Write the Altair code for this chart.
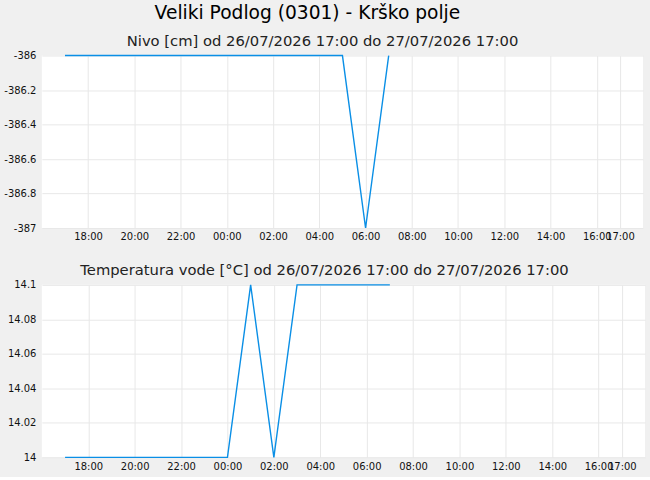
import altair as alt
import pandas as pd

# --- data ---
level_times = ["2026-07-26 17:00", "2026-07-26 18:00", "2026-07-26 19:00", "2026-07-26 20:00",
               "2026-07-26 21:00", "2026-07-26 22:00", "2026-07-26 23:00", "2026-07-27 00:00",
               "2026-07-27 01:00", "2026-07-27 02:00", "2026-07-27 03:00", "2026-07-27 04:00",
               "2026-07-27 05:00", "2026-07-27 06:00", "2026-07-27 07:00"]
level_values = [-386, -386, -386, -386, -386, -386, -386, -386,
                -386, -386, -386, -386, -386, -387, -386]

temp_times = level_times
temp_values = [14.0, 14.0, 14.0, 14.0, 14.0, 14.0, 14.0, 14.0,
               14.1, 14.0, 14.1, 14.1, 14.1, 14.1, 14.1]

level_ticks = [-387, -386.8, -386.6, -386.4, -386.2, -386]
temp_ticks = [14, 14.02, 14.04, 14.06, 14.08, 14.1]

tick_hours = [(26, 18), (26, 20), (26, 22), (27, 0), (27, 2), (27, 4), (27, 6), (27, 8),
              (27, 10), (27, 12), (27, 14), (27, 16), (27, 17)]

main_title = "Veliki Podlog (0301) - Krško polje"
level_title = "Nivo [cm] od 26/07/2026 17:00 do 27/07/2026 17:00"
temp_title = "Temperatura vode [°C] od 26/07/2026 17:00 do 27/07/2026 17:00"

FONT = "DejaVu Sans"
LINE = "#0a8fe6"

tick_values = [alt.DateTime(year=2026, month=7, date=d, hours=h) for d, h in tick_hours]
x_domain = [alt.DateTime(year=2026, month=7, date=26, hours=16),
            alt.DateTime(year=2026, month=7, date=27, hours=18)]

level_df = pd.DataFrame({"t": level_times, "v": level_values})
temp_df = pd.DataFrame({"t": temp_times, "v": temp_values})


def panel(df, ticks, ymin, ymax, title, width, dx):
    return alt.Chart(df, title=alt.TitleParams(title, fontSize=14.8, font=FONT, fontWeight="normal",
                                                color="#222", offset=2, dx=dx)).mark_line(
        color=LINE, strokeWidth=1.4, interpolate="linear", clip=False
    ).encode(
        x=alt.X("t:T", scale=alt.Scale(domain=x_domain),
                axis=alt.Axis(values=tick_values, format="%H:%M", title=None, labelFontSize=10,
                              labelFont=FONT, labelColor="#111", ticks=False, domain=False,
                              gridColor="#e8e8e8", labelPadding=4, labelFlush=False,
                              labelOverlap=False)),
        y=alt.Y("v:Q", scale=alt.Scale(domain=[ymin, ymax], nice=False, zero=False),
                axis=alt.Axis(values=ticks, labelExpr="datum.value + ''", title=None,
                              labelFontSize=10, labelFont=FONT,
                              labelColor="#111", ticks=False, domain=False, gridColor="#e8e8e8",
                              labelPadding=6, labelFlush=False, labelOverlap=False)),
    ).properties(width=width, height=173)


top = panel(level_df, level_ticks, -387, -386, level_title, 603, -20)
bottom = panel(temp_df, temp_ticks, 14, 14.1, temp_title, 605, -19)

chart = alt.vconcat(top, bottom, spacing=21).properties(
    title=alt.TitleParams(main_title, fontSize=18.7, font=FONT, fontWeight="normal", color="#000",
                          anchor="middle", dx=-17, offset=11),
    padding={"left": 3, "top": 3, "right": 5, "bottom": 5},
    background="#f0f0f0",
).configure_view(fill="white", stroke=None)

chart.save("out.html", embed_options={"renderer": "svg", "actions": False})
